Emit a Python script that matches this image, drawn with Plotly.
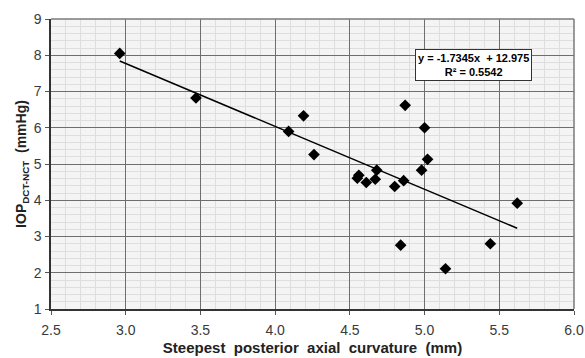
import numpy as np
import plotly.graph_objects as go

curvature = [2.96, 3.47, 4.09, 4.19, 4.26, 4.55, 4.56, 4.61, 4.67, 4.68,
             4.80, 4.84, 4.86, 4.87, 4.98, 5.00, 5.02, 5.14, 5.44, 5.62]
iop = [8.05, 6.82, 5.90, 6.33, 5.26, 4.61, 4.69, 4.49, 4.58, 4.83,
       4.38, 2.76, 4.54, 6.62, 4.83, 6.00, 5.13, 2.11, 2.80, 3.92]
slope = -1.7345
intercept = 12.975
r_squared = 0.5542

x_line = np.array([min(curvature), max(curvature)])
y_line = slope * x_line + intercept

fig = go.Figure()
fig.add_trace(go.Scatter(x=x_line, y=y_line, mode="lines",
                         line=dict(color="black", width=1.5), showlegend=False))
fig.add_trace(go.Scatter(x=curvature, y=iop, mode="markers",
                         marker=dict(symbol="diamond", size=9, color="black"),
                         showlegend=False))

font = "Liberation Sans, Arial, sans-serif"
fig.update_layout(
    width=585, height=358,
    margin=dict(l=51, r=11, t=19, b=49),
    paper_bgcolor="white", plot_bgcolor="#f4f4f4",
    font=dict(family=font, size=14, color="#3a3a3a"),
    xaxis=dict(range=[2.5, 6.0], dtick=0.5, tickformat=".1f",
               showgrid=True, gridcolor="#6e6e6e", gridwidth=1,
               minor=dict(dtick=0.1, showgrid=True, gridcolor="#dedede", gridwidth=1),
               showline=True, linecolor="#333333", linewidth=1.5, mirror=False,
               ticks="outside", ticklen=4, tickcolor="#555555",
               ticklabelstandoff=3, automargin=False,
               zeroline=False,
               title=dict(text="<b>Steepest  posterior  axial  curvature  (mm)</b>",
                          font=dict(size=15, color="#222222"), standoff=6)),
    yaxis=dict(range=[1, 9], dtick=1,
               showgrid=True, gridcolor="#6e6e6e", gridwidth=1,
               minor=dict(dtick=0.2, showgrid=True, gridcolor="#dedede", gridwidth=1),
               showline=True, linecolor="#333333", linewidth=1.5, mirror=False,
               ticks="outside", ticklen=4, tickcolor="#555555",
               ticklabelstandoff=1, automargin=False,
               zeroline=False,
               title=dict(text="<b>IOP<sub>DCT-NCT</sub>  (mmHg)</b>",
                          font=dict(size=14, color="#222222"), standoff=4)),
    shapes=[dict(type="line", xref="paper", yref="paper", x0=0, x1=1, y0=1, y1=1,
                 line=dict(color="#7a7a7a", width=1.5)),
            dict(type="line", xref="paper", yref="paper", x0=1, x1=1, y0=0, y1=1,
                 line=dict(color="#7a7a7a", width=1.5))],
    annotations=[dict(x=5.33, y=7.73, xref="x", yref="y", showarrow=False,
                      text=f"<b>y = {slope}x  + {intercept}<br>R² = {r_squared}</b>",
                      font=dict(family=font, size=11, color="black"),
                      bgcolor="white", bordercolor="#333333", borderwidth=1,
                      borderpad=2, align="center")],
)

fig.write_html("out.html", config={"displayModeBar": False},
               post_script="document.body.style.margin='0';document.body.style.overflow='hidden';")
